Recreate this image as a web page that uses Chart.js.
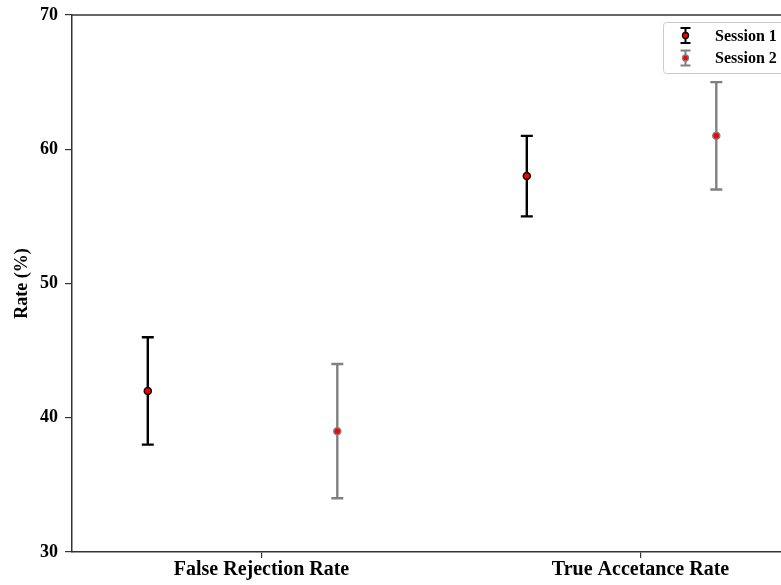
<!DOCTYPE html>
<html>
<head>
<meta charset="utf-8">
<script src="https://cdn.jsdelivr.net/npm/chart.js@4/dist/chart.umd.min.js"></script>
<style>
  html, body { margin: 0; padding: 0; background: #fff; overflow: hidden; }
  #wrap { width: 781px; height: 585px; overflow: hidden; }
</style>
</head>
<body>
<div id="wrap"><canvas id="rates" width="840" height="585"></canvas></div>
<script>
const categories = ["False Rejection Rate", "True Accetance Rate"];
const sessionNames = ["Session 1", "Session 2"];
const session1Mean = [42, 58];
const session1Low = [38, 55];
const session1High = [46, 61];
const session2Mean = [39, 61];
const session2Low = [34, 57];
const session2High = [44, 65];
const yTicks = [30, 40, 50, 60, 70];

const colors = ["#000000", "#808080"];
const offsets = [-0.3, 0.2];
const FONT = "'Liberation Serif', 'Times New Roman', serif";

function makePoints(means, lows, highs, off) {
  return means.map((m, i) => ({ x: i + off, y: m, lo: lows[i], hi: highs[i] }));
}

// error bars go under the markers
const errorBars = {
  id: "errorBars",
  beforeDatasetsDraw(chart) {
    const ctx = chart.ctx;
    const xs = chart.scales.x, ys = chart.scales.y;
    chart.data.datasets.forEach((ds) => {
      ctx.save();
      ctx.strokeStyle = ds.barColor;
      ctx.lineWidth = 2.4;
      ds.data.forEach((p) => {
        const x = xs.getPixelForValue(p.x);
        const y1 = ys.getPixelForValue(p.lo);
        const y2 = ys.getPixelForValue(p.hi);
        ctx.beginPath();
        ctx.moveTo(x, y1); ctx.lineTo(x, y2);
        ctx.moveTo(x - 6, y1); ctx.lineTo(x + 6, y1);
        ctx.moveTo(x - 6, y2); ctx.lineTo(x + 6, y2);
        ctx.stroke();
      });
      ctx.restore();
    });
  },
  afterDraw(chart) {
    const ctx = chart.ctx;
    const a = chart.chartArea;
    ctx.save();
    // top spine
    ctx.strokeStyle = "#333";
    ctx.lineWidth = 1.5;
    ctx.beginPath();
    ctx.moveTo(a.left, a.top); ctx.lineTo(a.right, a.top);
    ctx.stroke();

    // legend box
    const bx = 663.5, by = 22.5, bw = 140, bh = 51;
    ctx.fillStyle = "rgba(255,255,255,0.9)";
    ctx.strokeStyle = "#cccccc";
    ctx.lineWidth = 1;
    ctx.beginPath();
    ctx.roundRect(bx, by, bw, bh, 3);
    ctx.fill();
    ctx.stroke();

    sessionNames.forEach((name, i) => {
      const cy = 35.5 + i * 22.5;
      const ix = 685.5;
      ctx.strokeStyle = colors[i];
      ctx.lineWidth = 2;
      ctx.beginPath();
      ctx.moveTo(ix, cy - 7.5); ctx.lineTo(ix, cy + 7.5);
      ctx.moveTo(ix - 5, cy - 7.5); ctx.lineTo(ix + 5, cy - 7.5);
      ctx.moveTo(ix - 5, cy + 7.5); ctx.lineTo(ix + 5, cy + 7.5);
      ctx.stroke();
      ctx.beginPath();
      ctx.arc(ix, cy, 3, 0, Math.PI * 2);
      ctx.fillStyle = "#ff0000";
      ctx.fill();
      ctx.lineWidth = 1.3;
      ctx.stroke();
      ctx.fillStyle = "#000";
      ctx.font = "bold 16px " + FONT;
      ctx.textAlign = "left";
      ctx.textBaseline = "middle";
      ctx.fillText(name, 715, cy + 1);
    });
    ctx.restore();
  },
};

new Chart(document.getElementById("rates"), {
  type: "scatter",
  data: {
    datasets: [
      {
        label: sessionNames[0],
        data: makePoints(session1Mean, session1Low, session1High, offsets[0]),
        barColor: colors[0],
        backgroundColor: "#ff0000",
        borderColor: colors[0],
        borderWidth: 1.5,
        pointRadius: 3.5,
      },
      {
        label: sessionNames[1],
        data: makePoints(session2Mean, session2Low, session2High, offsets[1]),
        barColor: colors[1],
        backgroundColor: "#ff0000",
        borderColor: colors[1],
        borderWidth: 1.5,
        pointRadius: 3.5,
      },
    ],
  },
  options: {
    responsive: false,
    animation: false,
    layout: { padding: { top: 15, right: 10, left: 0, bottom: 0 } },
    plugins: { legend: { display: false }, tooltip: { enabled: false } },
    scales: {
      x: {
        type: "linear",
        min: -0.5,
        max: 1.5,
        afterBuildTicks: (s) => { s.ticks = categories.map((c, i) => ({ value: i })); },
        afterFit: (s) => { s.height = 33; },
        ticks: {
          callback: (v) => categories[v],
          color: "#000",
          font: { family: FONT, size: 20, weight: "bold" },
          padding: 0,
          maxRotation: 0,
        },
        grid: { drawOnChartArea: false, tickLength: 6, color: "#333", lineWidth: 1.2 },
        border: { color: "#333", width: 1.5 },
      },
      y: {
        min: 30,
        max: 70,
        afterBuildTicks: (s) => { s.ticks = yTicks.map((v) => ({ value: v })); },
        afterFit: (s) => {
          s.width = 72;
          s.paddingTop = 0;
          s.paddingBottom = 0;
        },
        ticks: {
          color: "#000",
          font: { family: FONT, size: 18, weight: "bold" },
          padding: 7,
        },
        grid: { drawOnChartArea: false, tickLength: 7, color: "#333", lineWidth: 1.2 },
        border: { color: "#333", width: 1.5 },
        title: {
          display: true,
          text: "Rate (%)",
          color: "#000",
          font: { family: FONT, size: 18, weight: "bold" },
          padding: { top: 12, bottom: 0 },
        },
      },
    },
  },
  plugins: [errorBars],
});
</script>
</body>
</html>
